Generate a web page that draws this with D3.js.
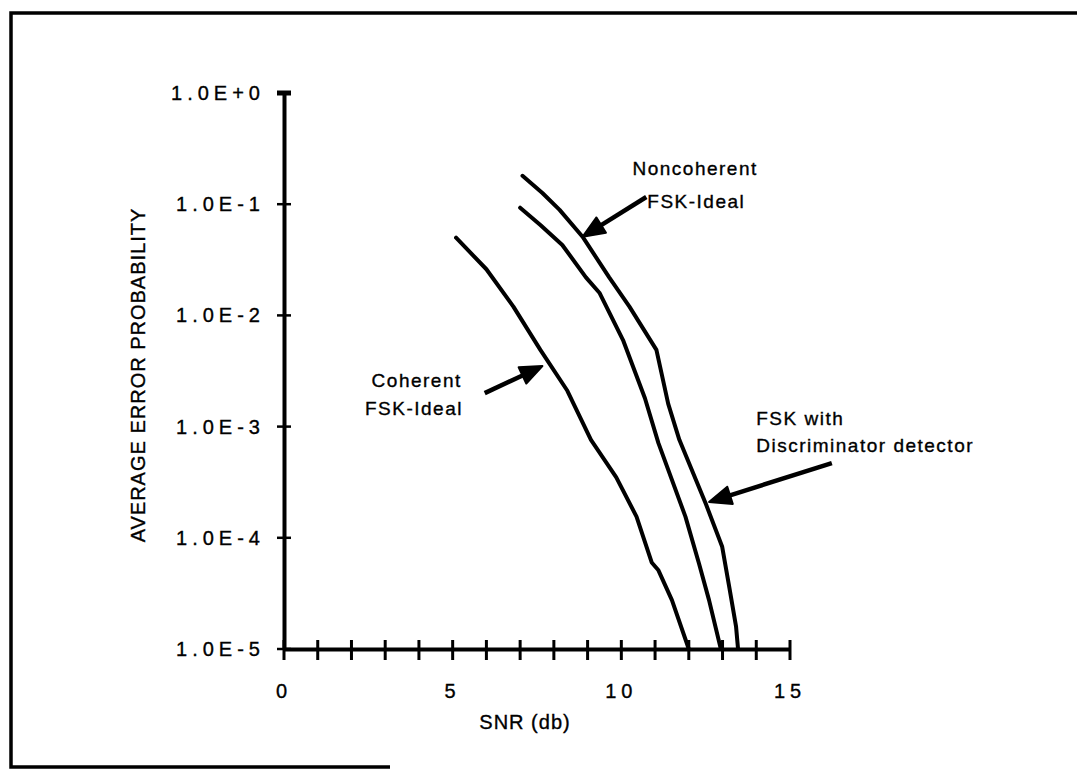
<!DOCTYPE html>
<html>
<head>
<meta charset="utf-8">
<script src="https://cdn.jsdelivr.net/npm/d3@7"></script>
<style>
  html, body { margin: 0; padding: 0; background: #fff; overflow: hidden; }
  svg { display: block; }
  svg text { font-family: "Liberation Sans", Arial, sans-serif; fill: #000; stroke: #000; stroke-width: 0.35px; }
</style>
</head>
<body>
<svg id="chart" width="1077" height="769"></svg>
<script>
// series (SNR in dB, average error probability)
const snrCoherent = [5.1, 6.0, 6.8, 7.6, 8.4, 9.1, 9.85, 10.45, 10.9, 11.1, 11.5, 12.0];
const pCoherent = [5.0e-2, 2.6e-2, 1.2e-2, 4.9e-3, 2.1e-3, 7.6e-4, 3.5e-4, 1.55e-4, 6.0e-5, 5.1e-5, 2.75e-5, 1.0e-5];

const snrNoncoherent = [7.0, 7.6, 8.25, 8.95, 9.35, 10.05, 10.7, 11.1, 11.9, 12.3, 12.6, 12.95];
const pNoncoherent = [9.3e-2, 6.5e-2, 4.3e-2, 2.2e-2, 1.6e-2, 6.0e-3, 1.8e-3, 7.1e-4, 1.55e-4, 5.9e-5, 2.75e-5, 1.0e-5];

const snrDiscriminator = [7.07, 7.66, 8.17, 8.85, 9.64, 10.24, 11.04, 11.39, 11.72, 12.51, 12.99, 13.2, 13.4, 13.46];
const pDiscriminator = [1.8e-1, 1.26e-1, 8.9e-2, 5.1e-2, 2.2e-2, 1.2e-2, 4.9e-3, 1.6e-3, 7.6e-4, 2.0e-4, 8.3e-5, 3.6e-5, 1.6e-5, 1.0e-5];

const xTickValues = [0, 5, 10, 15];
const xTickLabels = ["0", "5", "10", "15"];
const yTickValues = [1, 1e-1, 1e-2, 1e-3, 1e-4, 1e-5];
const yTickLabels = ["1.0E+0", "1.0E-1", "1.0E-2", "1.0E-3", "1.0E-4", "1.0E-5"];

const xTitle = "SNR (db)";
const yTitle = "AVERAGE ERROR PROBABILITY";

const svg = d3.select("#chart");

const x = d3.scaleLinear().domain([0, 15]).range([284, 790]);
const y = d3.scaleLog().domain([1e-5, 1]).range([649, 93]);

// page frame (scanned figure border)
svg.append("path")
    .attr("d", "M1077,13 L11,13 L11,767 L390,767")
    .attr("fill", "none").attr("stroke", "#000").attr("stroke-width", 3.5);

// axes
const xAxis = d3.axisBottom(x).tickValues(d3.range(0, 16)).tickSize(0).tickFormat("");
svg.append("g").attr("transform", `translate(0,${y(1e-5)})`).call(xAxis)
    .call(g => g.select(".domain").attr("stroke", "#000").attr("stroke-width", 4));
svg.append("g").selectAll("line")
    .data(d3.range(0, 16))
    .join("line")
    .attr("x1", d => x(d)).attr("x2", d => x(d))
    .attr("y1", y(1e-5) - 9).attr("y2", y(1e-5) + 11)
    .attr("stroke", "#000").attr("stroke-width", 3);

const yAxis = d3.axisLeft(y).tickValues(yTickValues).tickSize(0).tickFormat("");
svg.append("g").attr("transform", `translate(${x(0)},0)`).call(yAxis)
    .call(g => g.select(".domain").attr("stroke", "#000").attr("stroke-width", 4));
svg.append("g").selectAll("line")
    .data(yTickValues)
    .join("line")
    .attr("x1", x(0) - 7).attr("x2", x(0) + 7)
    .attr("y1", d => y(d)).attr("y2", d => y(d))
    .attr("stroke", "#000").attr("stroke-width", d => d === 1 ? 5 : 2.5);

// tick labels
svg.append("g").selectAll("text")
    .data(yTickValues)
    .join("text")
    .attr("x", x(0) - 19)
    .attr("y", d => y(d) + 7)
    .attr("text-anchor", "end")
    .attr("font-size", 20)
    .attr("letter-spacing", 5)
    .text((d, i) => yTickLabels[i]);

svg.append("g").selectAll("text")
    .data(xTickValues)
    .join("text")
    .attr("x", d => x(d))
    .attr("y", y(1e-5) + 49)
    .attr("text-anchor", "middle")
    .attr("font-size", 20)
    .attr("letter-spacing", 5)
    .text((d, i) => xTickLabels[i]);

// axis titles
svg.append("text")
    .attr("x", 525).attr("y", 729)
    .attr("text-anchor", "middle")
    .attr("font-size", 20)
    .attr("letter-spacing", 1)
    .text(xTitle);

svg.append("text")
    .attr("transform", "translate(145,375) rotate(-90)")
    .attr("text-anchor", "middle")
    .attr("font-size", 20)
    .attr("letter-spacing", 1)
    .text(yTitle);

// curves
const line = d3.line().x(d => x(d[0])).y(d => y(d[1])).curve(d3.curveLinear);
const series = [
    d3.zip(snrCoherent, pCoherent),
    d3.zip(snrNoncoherent, pNoncoherent),
    d3.zip(snrDiscriminator, pDiscriminator)
];
svg.append("g").selectAll("path")
    .data(series)
    .join("path")
    .attr("d", line)
    .attr("fill", "none")
    .attr("stroke", "#000")
    .attr("stroke-width", 4)
    .attr("stroke-linejoin", "round")
    .attr("stroke-linecap", "round");

// annotations: arrows (tail -> tip) and labels, in data units
const arrows = [
    { from: [10.74, 0.116], to: [8.85, 5.1e-2] },
    { from: [5.95, 2.0e-3], to: [7.66, 3.5e-3] },
    { from: [16.24, 4.7e-4], to: [12.6, 2.1e-4] }
];
arrows.forEach(a => {
    const x1 = x(a.from[0]), y1 = y(a.from[1]), x2 = x(a.to[0]), y2 = y(a.to[1]);
    const ang = Math.atan2(y2 - y1, x2 - x1);
    const len = 22, half = 9;
    const bx = x2 - len * Math.cos(ang), by = y2 - len * Math.sin(ang);
    svg.append("line")
        .attr("x1", x1).attr("y1", y1).attr("x2", bx).attr("y2", by)
        .attr("stroke", "#000").attr("stroke-width", 4.5);
    svg.append("path")
        .attr("d", `M${x2},${y2} L${bx + half * Math.sin(ang)},${by - half * Math.cos(ang)} L${bx - half * Math.sin(ang)},${by + half * Math.cos(ang)} Z`)
        .attr("fill", "#000").attr("stroke", "#000").attr("stroke-width", 2).attr("stroke-linejoin", "round");
});

const notes = [
    { text: "Noncoherent", at: [10.33, 10 ** -0.737], anchor: "start" },
    { text: "FSK-Ideal", at: [10.77, 10 ** -1.034], anchor: "start" },
    { text: "Coherent", at: [5.27, 10 ** -2.644], anchor: "end" },
    { text: "FSK-Ideal", at: [2.4, 10 ** -2.896], anchor: "start" },
    { text: "FSK with", at: [14.0, 10 ** -2.986], anchor: "start" },
    { text: "Discriminator detector", at: [14.0, 10 ** -3.228], anchor: "start" }
];
svg.append("g").selectAll("text")
    .data(notes)
    .join("text")
    .attr("x", d => x(d.at[0]))
    .attr("y", d => y(d.at[1]))
    .attr("text-anchor", d => d.anchor)
    .attr("font-size", 19)
    .attr("letter-spacing", 1.5)
    .text(d => d.text);
</script>
</body>
</html>
